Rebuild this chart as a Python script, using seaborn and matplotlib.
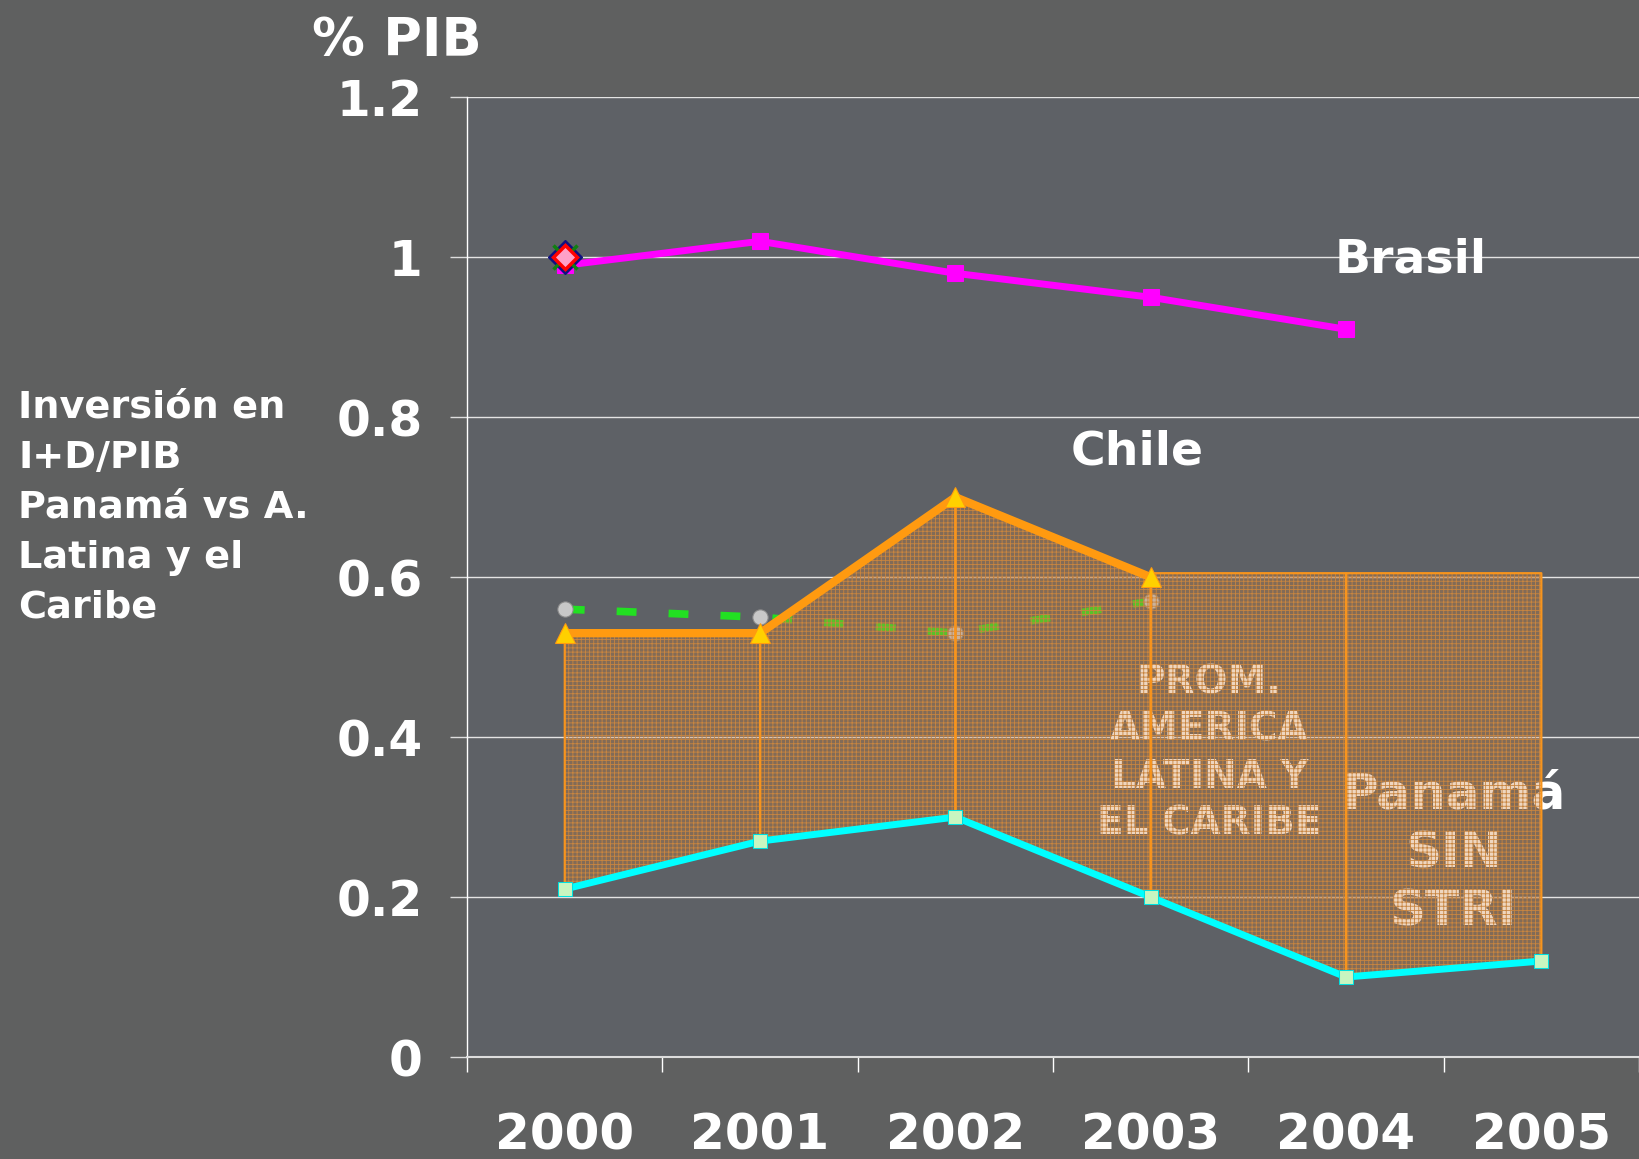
import matplotlib
matplotlib.use("Agg")
import numpy as np
import pandas as pd
import matplotlib.pyplot as plt
import seaborn as sns

# valores (% del PIB)
years = ["2000", "2001", "2002", "2003", "2004", "2005"]
brasil = [0.99, 1.02, 0.98, 0.95, 0.91, np.nan]
chile = [0.53, 0.53, 0.70, 0.60, np.nan, np.nan]
prom_alc = [0.56, 0.55, 0.53, 0.57, np.nan, np.nan]
panama = [0.21, 0.27, 0.30, 0.20, 0.10, 0.12]
otros_2000 = [1.0, 1.0, 1.0]      # marcadores apilados en 2000
caja_top = 0.605                  # techo del recuadro 2003-2005
y_ticks = [0, 0.2, 0.4, 0.6, 0.8, 1, 1.2]
y_labels = ["0", "0.2", "0.4", "0.6", "0.8", "1", "1.2"]

BG_FIG = "#5f6060"
BG_AX = "#5e6166"
ORANGE = "#f7941d"

sns.set_theme(style="dark")
plt.rcParams["font.family"] = ["DejaVu Sans"]
plt.rcParams["hatch.linewidth"] = 0.6

df = pd.DataFrame({"x": np.arange(len(years)), "Brasil": brasil, "Chile": chile,
                   "Prom": prom_alc, "Panama": panama})

fig = plt.figure(figsize=(16.39, 11.59), dpi=100, facecolor=BG_FIG)
ax = fig.add_axes([0.285, 0.088, 0.715, 0.828])
ax.set_facecolor(BG_AX)

# zona sombreada entre la linea de Chile / recuadro y Panama
for i in range(len(years) - 1):
    xs = [i, i + 1]
    if i < 3:
        top = [chile[i], chile[i + 1]]
    else:
        top = [caja_top, caja_top]
    bot = [panama[i], panama[i + 1]]
    ax.fill_between(xs, bot, top, facecolor="#d0823a", alpha=0.32, linewidth=0, zorder=2)
    ax.fill_between(xs, bot, top, facecolor="none", edgecolor="#c88540", hatch="++++",
                    linewidth=0, zorder=2.1)
    ax.fill_between(xs, bot, top, facecolor="none", edgecolor=ORANGE,
                    linewidth=1.6, zorder=2.2)

# promedio ALC (verde discontinuo)
sns.lineplot(data=df, x="x", y="Prom", ax=ax, color="#22e022", lw=5.5,
             linestyle=(0, (2.6, 4.2)), marker="o", markersize=11,
             markerfacecolor="#c8c8c8", markeredgecolor="#8a8a8a", zorder=1.8)
# Brasil
sns.lineplot(data=df, x="x", y="Brasil", ax=ax, color="#ff00ff", lw=5,
             marker="s", markersize=11, markerfacecolor="#ff00ff",
             markeredgecolor="#ff00ff", zorder=4)
# Chile
sns.lineplot(data=df, x="x", y="Chile", ax=ax, color="#ff9a10", lw=6,
             marker="^", markersize=14, markerfacecolor="#ffd000",
             markeredgecolor="#ff9a10", zorder=4)
# Panama
sns.lineplot(data=df, x="x", y="Panama", ax=ax, color="#00ffff", lw=5,
             marker="s", markersize=10, markerfacecolor="#c8f5c0",
             markeredgecolor="#00e0e0", zorder=3)

# otros marcadores en 2000
ax.plot([0], [otros_2000[0]], marker="D", markersize=17, color="#101080", ls="none", zorder=5)
ax.plot([0], [otros_2000[1]], marker="x", markersize=17, mew=2.5, color="#108010", ls="none", zorder=5)
ax.plot([0], [otros_2000[2]], marker="D", markersize=12, mfc="#ffa0c8", mec="#ff0000",
        mew=2.5, ls="none", zorder=6)

# textos
ax.text(4.33, 0.996, "Brasil", color="white", fontsize=34, fontweight="bold",
        ha="center", va="center", zorder=6)
ax.text(2.93, 0.757, "Chile", color="white", fontsize=34, fontweight="bold",
        ha="center", va="center", zorder=6)
ax.text(3.30, 0.38, "PROM.\nAMERICA\nLATINA Y\nEL CARIBE", color="white", fontsize=28,
        fontweight="bold", ha="center", va="center", linespacing=1.3, zorder=1.5)
ax.text(4.55, 0.255, "Panamá\nSIN\nSTRI", color="white", fontsize=36,
        fontweight="bold", ha="center", va="center", linespacing=1.28, zorder=1.5)

fig.text(0.242, 0.965, "% PIB", color="white", fontsize=38, fontweight="bold",
         ha="center", va="center")
fig.text(0.011, 0.562, "Inversión en\nI+D/PIB\nPanamá vs A.\nLatina y el\nCaribe",
         color="white", fontsize=27.5, fontweight="bold", ha="left", va="center",
         linespacing=1.5)

# ejes
ax.set_xlim(-0.5, len(years) - 0.5)
ax.set_ylim(0, 1.2)
ax.set_xticks(np.arange(len(years)))
ax.set_xticklabels(years)
ax.set_xticks(np.arange(len(years) + 1) - 0.5, minor=True)
ax.set_yticks(y_ticks)
ax.set_yticklabels(y_labels)
ax.set_xlabel("")
ax.set_ylabel("")
ax.tick_params(axis="x", which="major", length=0, pad=39, labelsize=36,
               labelcolor="white")
ax.tick_params(axis="x", which="minor", length=11, width=1, color="white",
               direction="out", bottom=True)
ax.tick_params(axis="y", length=12, width=1, color="#dddddd", pad=20,
               labelsize=35, labelcolor="white", left=True)
for lab in ax.get_xticklabels() + ax.get_yticklabels():
    lab.set_fontweight("bold")

ax.grid(False)
ax.yaxis.grid(True, color="#e4e4e4", lw=1)
ax.set_axisbelow(True)
for s in ["top", "right"]:
    ax.spines[s].set_visible(False)
ax.spines["left"].set_color("white")
ax.spines["left"].set_linewidth(1)
ax.spines["bottom"].set_color("#dddddd")
ax.spines["bottom"].set_linewidth(1.5)

fig.savefig("out.png", dpi=100, facecolor=BG_FIG)
